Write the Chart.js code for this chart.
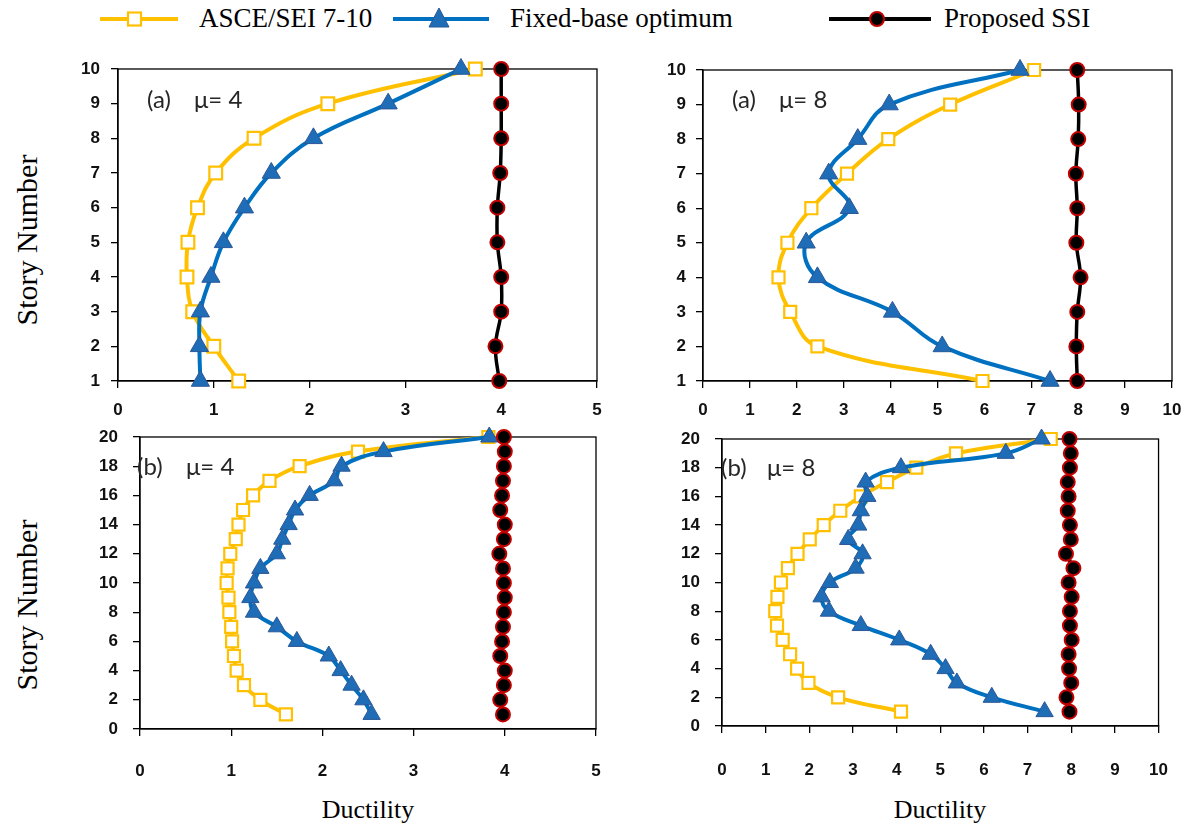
<!DOCTYPE html>
<html>
<head>
<meta charset="utf-8">
<script src="https://cdn.jsdelivr.net/npm/chart.js@4.4.1/dist/chart.umd.min.js"></script>
<style>
  html, body { margin: 0; padding: 0; background: #fff; }
  #page { position: relative; width: 1195px; height: 825px; overflow: hidden;
          font-family: "Liberation Serif", "Times New Roman", serif; color: #000; }
  canvas.panel { position: absolute; left: 0; top: 0; }
  .legend-icon { position: absolute; top: 5px; }
  .legend-text { position: absolute; top: 3px; font-size: 27px; line-height: 30px; white-space: nowrap; }
  .title { position: absolute; font-size: 26px; line-height: 30px; white-space: nowrap;
           transform: translate(-50%, -50%); }
  .ytitle { font-size: 30px; transform: translate(-50%, -50%) rotate(-90deg); }
</style>
</head>
<body>
<div id="page">
  <!-- shared legend -->
  <svg class="legend-icon" style="left:98px" width="84" height="28">
    <line x1="2" y1="14" x2="80" y2="14" stroke="#FFC000" stroke-width="4"/>
    <rect x="30" y="7.5" width="13" height="13" fill="#fff" stroke="#FFC000" stroke-width="2.2"/>
  </svg>
  <div class="legend-text" style="left:199px">ASCE/SEI 7-10</div>

  <svg class="legend-icon" style="left:391px" width="100" height="28">
    <line x1="2" y1="14" x2="98" y2="14" stroke="#0070C0" stroke-width="4"/>
    <polygon points="48,3 58,22 38,22" fill="#1F6DB6" stroke="#2B5797" stroke-width="1"/>
  </svg>
  <div class="legend-text" style="left:510px">Fixed-base optimum</div>

  <svg class="legend-icon" style="left:827px" width="106" height="28">
    <line x1="2" y1="14" x2="104" y2="14" stroke="#000" stroke-width="4"/>
    <circle cx="50" cy="14" r="7" fill="#000" stroke="#C00000" stroke-width="2"/>
  </svg>
  <div class="legend-text" style="left:944px">Proposed SSI</div>

  <!-- axis titles -->
  <div class="title ytitle" style="left:27px; top:240px">Story Number</div>
  <div class="title ytitle" style="left:27px; top:605px">Story Number</div>
  <div class="title" style="left:368px; top:810px">Ductility</div>
  <div class="title" style="left:940px; top:810px">Ductility</div>

  <canvas class="panel" id="p1" width="1195" height="825"></canvas>
  <canvas class="panel" id="p2" width="1195" height="825"></canvas>
  <canvas class="panel" id="p3" width="1195" height="825"></canvas>
  <canvas class="panel" id="p4" width="1195" height="825"></canvas>
</div>

<script>
// ---- story numbers ----
const stories10 = [1, 2, 3, 4, 5, 6, 7, 8, 9, 10];
const stories20 = [1, 2, 3, 4, 5, 6, 7, 8, 9, 10, 11, 12, 13, 14, 15, 16, 17, 18, 19, 20];

// ---- tick values ----
const ductTicks5 = [0, 1, 2, 3, 4, 5];
const ductTicks10 = [0, 1, 2, 3, 4, 5, 6, 7, 8, 9, 10];
const storyTicks20 = [0, 2, 4, 6, 8, 10, 12, 14, 16, 18, 20];

// ---- 10-story frame, target ductility 4 (story 1 -> 10) ----
const asce10mu4  = [1.26, 1.00, 0.78, 0.72, 0.73, 0.83, 1.02, 1.42, 2.19, 3.73];
const fixed10mu4 = [0.86, 0.85, 0.86, 0.97, 1.10, 1.32, 1.60, 2.04, 2.82, 3.58];
const ssi10mu4   = [3.98, 3.94, 4.00, 4.00, 3.96, 3.96, 3.99, 4.00, 4.00, 4.00];

// ---- 10-story frame, target ductility 8 ----
const asce10mu8  = [5.96, 2.44, 1.86, 1.61, 1.80, 2.31, 3.07, 3.95, 5.27, 7.06];
const fixed10mu8 = [7.40, 5.10, 4.04, 2.44, 2.20, 3.12, 2.68, 3.30, 3.97, 6.76];
const ssi10mu8   = [7.98, 7.96, 7.98, 8.05, 7.96, 7.98, 7.95, 8.00, 8.01, 7.98];

// ---- 20-story frame, target ductility 4 ----
const asce20mu4  = [1.60, 1.32, 1.14, 1.06, 1.03, 1.01, 1.00, 0.98, 0.97, 0.95,
                    0.96, 0.99, 1.05, 1.08, 1.13, 1.24, 1.42, 1.75, 2.39, 3.82];
const fixed20mu4 = [2.54, 2.45, 2.32, 2.20, 2.07, 1.72, 1.50, 1.25, 1.21, 1.25,
                    1.32, 1.50, 1.56, 1.63, 1.70, 1.86, 2.13, 2.21, 2.67, 3.83];
const ssi20mu4   = [3.98, 3.95, 3.99, 4.00, 3.95, 3.97, 3.98, 3.99, 4.00, 3.99,
                    3.98, 3.94, 3.99, 4.00, 3.95, 3.97, 3.98, 3.99, 4.00, 3.99];

// ---- 20-story frame, target ductility 8 ----
const asce20mu8  = [4.10, 2.66, 1.98, 1.72, 1.56, 1.39, 1.26, 1.22, 1.27, 1.35,
                    1.51, 1.73, 2.01, 2.33, 2.71, 3.18, 3.78, 4.45, 5.36, 7.53];
const fixed20mu8 = [7.39, 6.18, 5.38, 5.12, 4.78, 4.06, 3.18, 2.45, 2.28, 2.47,
                    3.06, 3.22, 2.89, 3.12, 3.18, 3.33, 3.29, 4.10, 6.50, 7.32];
const ssi20mu8   = [7.96, 7.89, 8.00, 7.95, 7.94, 8.01, 7.97, 7.97, 8.01, 7.94,
                    8.05, 7.88, 7.99, 7.97, 7.92, 7.94, 7.92, 7.97, 7.99, 7.96];

const seriesNames = ['ASCE/SEI 7-10', 'Fixed-base optimum', 'Proposed SSI'];

// default text for axis tick labels
Chart.defaults.font.family = '"Liberation Sans", Arial, sans-serif';
Chart.defaults.font.size = 17;
Chart.defaults.font.weight = 'bold';
Chart.defaults.color = '#111';

// pair ductility values with their story numbers
function toPoints(values, stories) {
  return values.map((v, i) => ({ x: v, y: stories[i] }));
}

// closed frame around each plotting area
const framePlugin = {
  id: 'frame',
  beforeDatasetsDraw(chart) {
    const { ctx, chartArea: a } = chart;
    ctx.save();
    ctx.strokeStyle = '#000';
    ctx.lineWidth = 1.3;
    ctx.strokeRect(a.left, a.top, a.right - a.left, a.bottom - a.top);
    ctx.restore();
  }
};

// case labels inside the panels
const panelTextPlugin = {
  id: 'panelText',
  afterDraw(chart, args, opts) {
    const ctx = chart.ctx;
    ctx.save();
    ctx.font = '24px Lato, "Open Sans", sans-serif';
    ctx.fillStyle = '#262626';
    ctx.textBaseline = 'middle';
    (opts.items || []).forEach(it => ctx.fillText(it.text, it.x, it.y));
    ctx.restore();
  }
};

const tickFont = { family: '"Liberation Sans", Arial, sans-serif', weight: 'bold', size: 17 };
const PAGE_W = 1195, PAGE_H = 825;
const Y_W = 60, X_H = 50;

function makePanel(id, cfg) {
  const area = cfg.area;
  const datasets = [
    {
      label: seriesNames[0],
      data: toPoints(cfg.asce, cfg.stories),
      showLine: true, tension: 0.4, clip: false, order: 3,
      borderColor: '#FFC000', borderWidth: 4,
      pointStyle: 'rect', pointRadius: cfg.rectR,
      pointBackgroundColor: '#fff', pointBorderColor: '#FFC000', pointBorderWidth: 2.2
    },
    {
      label: seriesNames[1],
      data: toPoints(cfg.fixed, cfg.stories),
      showLine: true, tension: 0.4, clip: false, order: 2,
      borderColor: '#0070C0', borderWidth: 4,
      pointStyle: 'triangle', pointRadius: cfg.triR,
      pointBackgroundColor: '#1F6DB6', pointBorderColor: '#2B5797', pointBorderWidth: 1
    },
    {
      label: seriesNames[2],
      data: toPoints(cfg.ssi, cfg.stories),
      showLine: true, tension: 0.4, clip: false, order: 1,
      borderColor: '#000', borderWidth: 3.5,
      pointStyle: 'circle', pointRadius: cfg.circR,
      pointBackgroundColor: '#000', pointBorderColor: '#C00000', pointBorderWidth: 2
    }
  ];

  const xTicks = cfg.xTicks, yTicks = cfg.yTicks;
  return new Chart(document.getElementById(id), {
    type: 'scatter',
    data: { datasets },
    plugins: [framePlugin, panelTextPlugin],
    options: {
      responsive: false,
      animation: false,
      events: [],
      layout: {
        padding: {
          left: area.left - Y_W,
          top: area.top,
          right: PAGE_W - area.right,
          bottom: PAGE_H - area.bottom - X_H
        }
      },
      plugins: {
        legend: { display: false },
        tooltip: { enabled: false },
        panelText: { items: cfg.text }
      },
      scales: {
        x: {
          type: 'linear',
          min: xTicks[0], max: xTicks[xTicks.length - 1],
          afterBuildTicks(s) { s.ticks = xTicks.map(v => ({ value: v })); },
          afterFit(s) { s.height = X_H; },
          ticks: { font: tickFont, color: '#111', padding: cfg.xPad, maxRotation: 0, autoSkip: false },
          grid: { display: true, drawOnChartArea: false, drawTicks: true, tickLength: 7,
                  color: '#000', lineWidth: 1.3 },
          border: { display: true, color: '#000', width: 1.3 }
        },
        y: {
          type: 'linear',
          min: yTicks[0], max: yTicks[yTicks.length - 1],
          afterBuildTicks(s) { s.ticks = yTicks.map(v => ({ value: v })); },
          afterFit(s) { s.width = Y_W; },
          ticks: { font: tickFont, color: '#111', padding: cfg.yPad, autoSkip: false },
          grid: { display: true, drawOnChartArea: false, drawTicks: true, tickLength: 7,
                  color: '#000', lineWidth: 1.3 },
          border: { display: true, color: '#000', width: 1.3 }
        }
      }
    }
  });
}

makePanel('p1', {
  area: { left: 118, right: 597, top: 69, bottom: 381 },
  stories: stories10, asce: asce10mu4, fixed: fixed10mu4, ssi: ssi10mu4,
  xTicks: ductTicks5, yTicks: stories10,
  xPad: 12, yPad: 11, rectR: 9, triR: 10.5, circR: 7,
  text: [{ text: '(a)', x: 147, y: 100 }, { text: 'μ= 4', x: 194, y: 100 }]
});
makePanel('p2', {
  area: { left: 703, right: 1172, top: 70, bottom: 381 },
  stories: stories10, asce: asce10mu8, fixed: fixed10mu8, ssi: ssi10mu8,
  xTicks: ductTicks10, yTicks: stories10,
  xPad: 12, yPad: 10, rectR: 8.5, triR: 10.5, circR: 7,
  text: [{ text: '(a)', x: 732, y: 100 }, { text: 'μ= 8', x: 779, y: 100 }]
});
makePanel('p3', {
  area: { left: 140, right: 596, top: 437, bottom: 729 },
  stories: stories20, asce: asce20mu4, fixed: fixed20mu4, ssi: ssi20mu4,
  xTicks: ductTicks5, yTicks: storyTicks20,
  xPad: 25, yPad: 15, rectR: 8.5, triR: 10, circR: 7,
  text: [{ text: '(b)', x: 137, y: 467 }, { text: 'μ= 4', x: 186, y: 467 }]
});
makePanel('p4', {
  area: { left: 722, right: 1177, top: 439, bottom: 726 },
  stories: stories20, asce: asce20mu8, fixed: fixed20mu8, ssi: ssi20mu8,
  xTicks: ductTicks10, yTicks: storyTicks20,
  xPad: 27, yPad: 15, rectR: 8.5, triR: 10, circR: 7,
  text: [{ text: '(b)', x: 721, y: 468 }, { text: 'μ= 8', x: 767, y: 468 }]
});
</script>
</body>
</html>
